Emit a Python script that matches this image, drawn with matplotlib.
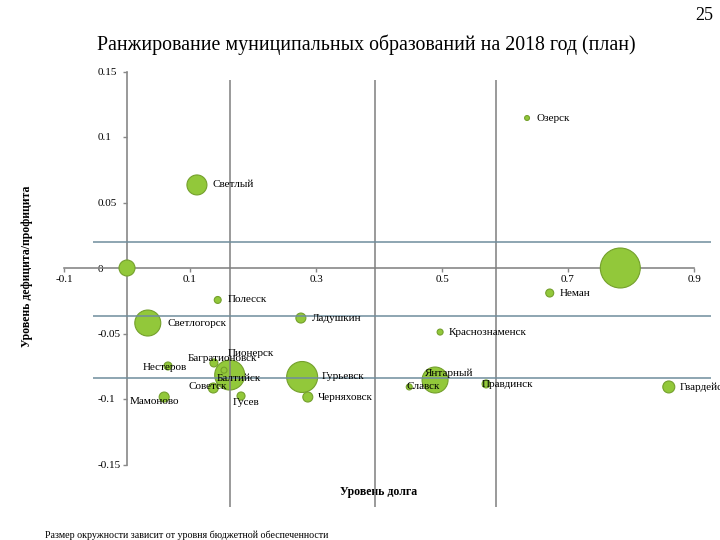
import numpy as np
import matplotlib.pyplot as plt
from matplotlib.ticker import FuncFormatter

plt.rcParams['font.family'] = ['Liberation Serif', 'DejaVu Serif']

# municipalities (empty name = label not shown on the slide)
names = ['Озерск', 'Светлый', '', '', 'Неман', 'Полесск', 'Светлогорск',
         'Ладушкин', 'Краснознаменск', 'Багратионовск', 'Нестеров', 'Балтийск',
         'Пионерск', 'Советск', 'Мамоново', 'Гусев', 'Гурьевск', 'Черняховск',
         'Янтарный', 'Славск', 'Правдинск', 'Гвардейск']
# debt level (x)
debt = [0.635, 0.111, 0.0, 0.783, 0.671, 0.144, 0.033,
        0.276, 0.497, 0.138, 0.065, 0.163,
        0.154, 0.137, 0.059, 0.181, 0.278, 0.287,
        0.489, 0.448, 0.570, 0.860]
# deficit / surplus level (y)
balance = [0.1145, 0.0634, 0.0, 0.0, -0.0191, -0.0244, -0.042,
           -0.0382, -0.0489, -0.0725, -0.0748, -0.0817,
           -0.078, -0.0916, -0.0985, -0.0977, -0.0832, -0.0985,
           -0.0855, -0.0908, -0.0885, -0.0908]
# relative budget sufficiency (bubble area)
sufficiency = [6, 100, 64, 400, 16, 12, 169,
               25, 9, 16, 16, 225,
               9, 25, 25, 16, 240, 25,
               169, 9, 16, 36]

# reference lines
debt_lines = [0.1635, 0.394, 0.586]
balance_lines = [0.0198, -0.0366, -0.084]

xticks = [-0.1, 0.1, 0.3, 0.5, 0.7, 0.9]
yticks = [-0.15, -0.1, -0.05, 0, 0.05, 0.1, 0.15]

# label offsets in pixels: (to left edge of text, upwards)
label_off = {
    'Озерск': (9, 0), 'Светлый': (16, 0), 'Неман': (10, 0), 'Полесск': (10, 0),
    'Светлогорск': (20, 0), 'Ладушкин': (11, 0), 'Краснознаменск': (9, 0),
    'Багратионовск': (-26, 4), 'Нестеров': (-25, -2), 'Балтийск': (-13, -3),
    'Пионерск': (4, 17), 'Советск': (-25, 1), 'Мамоново': (-34, -4),
    'Гусев': (-8, -7), 'Гурьевск': (20, 0), 'Черняховск': (10, 0),
    'Янтарный': (-10, 7), 'Славск': (-3, 0), 'Правдинск': (-4, -1),
    'Гвардейск': (11, 0),
}

fig = plt.figure(figsize=(7.2, 5.4), dpi=100)
ax = fig.add_axes([0, 0, 1, 1])
ax.patch.set_alpha(0)

# pixel -> data mapping chosen so the axes fill the slide
ax.set_xlim((0 - 127) / 630, (720 - 127) / 630)
ax.set_ylim((268 - 540) / 1310, (268 - 0) / 1310)

axis_col = '#888888'
for s in ['top', 'right']:
    ax.spines[s].set_visible(False)
ax.spines['left'].set_position(('data', 0))
ax.spines['bottom'].set_position(('data', 0))
ax.spines['left'].set_bounds(-0.15, 0.15)
ax.spines['bottom'].set_bounds(-0.1, 0.9)
for s in ['left', 'bottom']:
    ax.spines[s].set_color(axis_col)
    ax.spines[s].set_linewidth(1.2)

ax.set_xticks(xticks)
ax.set_yticks(yticks)
fmt = FuncFormatter(lambda v, p: '0' if abs(v) < 1e-9 else f'{v:g}')
ax.xaxis.set_major_formatter(fmt)
ax.yaxis.set_major_formatter(fmt)
ax.tick_params(axis='x', direction='out', length=3, width=1, color=axis_col,
               pad=2, labelsize=8)
ax.tick_params(axis='y', direction='out', length=3, width=1, color=axis_col,
               pad=18, labelsize=8)
for lab in ax.get_yticklabels():
    lab.set_horizontalalignment('left')

# bubbles
ax.scatter(debt, balance, s=np.array(sufficiency) * 2.07, color='#92c83a',
           edgecolor='#74a02c', linewidth=0.8, zorder=3)

# reference lines
ax.vlines(debt_lines, (268 - 507) / 1310, (268 - 80) / 1310, color='#7f7f7f',
          linewidth=1.1, zorder=4)
ax.hlines(balance_lines, (93 - 127) / 630, (711 - 127) / 630, color='#6f8d9c',
          linewidth=1.1, zorder=4)

for n, x, y in zip(names, debt, balance):
    if not n:
        continue
    dx, dy = label_off[n]
    ax.annotate(n, (x, y), xytext=(dx * 0.72, dy * 0.72), textcoords='offset points',
                ha='left', va='center', fontsize=8, zorder=5)

ax.text(0.4, -0.171, 'Уровень долга', ha='center', va='center', fontsize=8.5,
        fontweight='bold')
ax.text(-0.159, 0.001, 'Уровень дефицита/профицита', rotation=90, ha='center',
        va='center', fontsize=8.5, fontweight='bold')

fig.text(366 / 720, 1 - 45 / 540,
         'Ранжирование муниципальных образований на 2018 год (план)',
         ha='center', va='center', fontsize=14.3)
fig.text(713 / 720, 1 - 15 / 540, '25', ha='right', va='center', fontsize=13)
fig.text(45 / 720, 1 - 535 / 540,
         'Размер окружности зависит от уровня бюджетной обеспеченности',
         ha='left', va='center', fontsize=7.2)

fig.savefig('out.png', dpi=100)
